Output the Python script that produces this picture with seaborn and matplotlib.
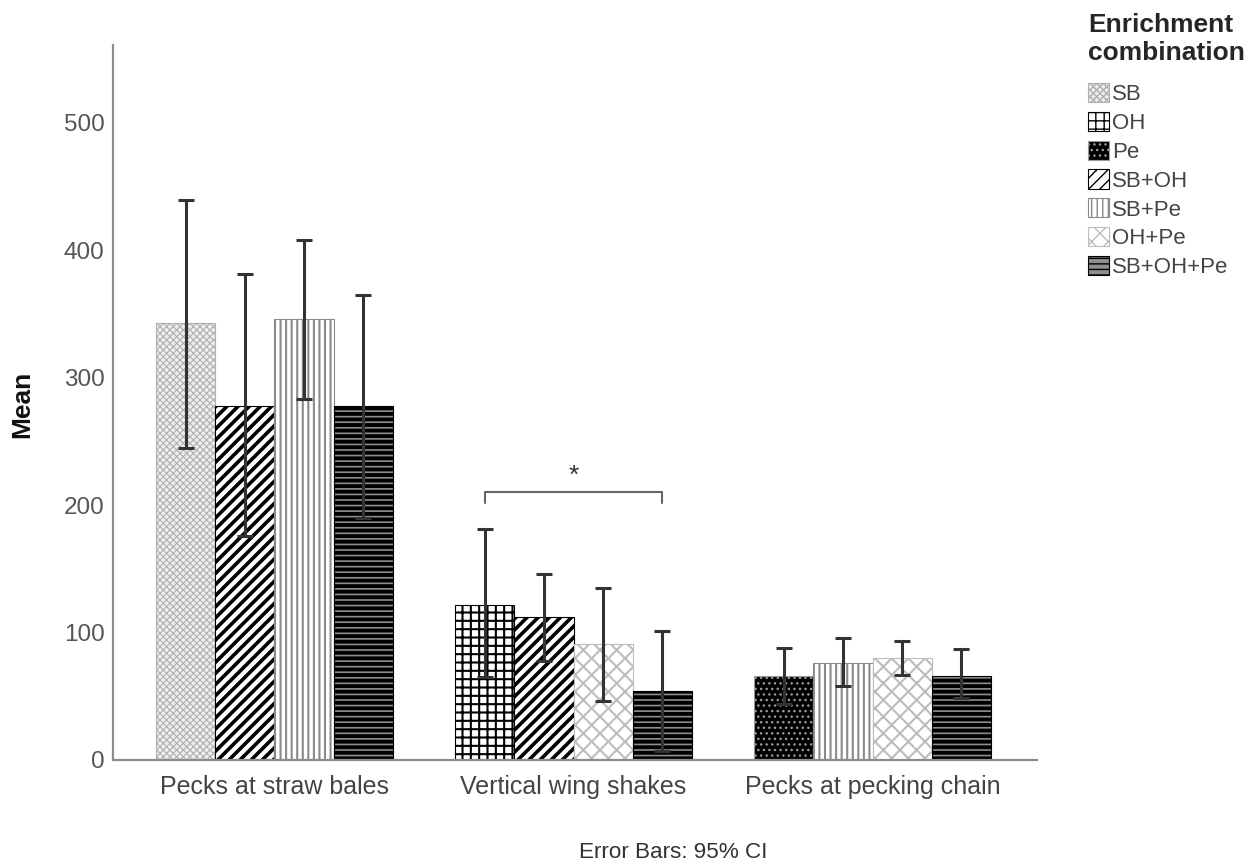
import numpy as np
import pandas as pd
import matplotlib
matplotlib.use("Agg")
import matplotlib.pyplot as plt
import seaborn as sns
from matplotlib.patches import Patch

# ---------------- data ----------------
behaviors = ["Pecks at straw bales", "Vertical wing shakes", "Pecks at pecking chain"]
combos = ["SB", "OH", "Pe", "SB+OH", "SB+Pe", "OH+Pe", "SB+OH+Pe"]
group_combos = [
    ["SB", "SB+OH", "SB+Pe", "SB+OH+Pe"],
    ["OH", "SB+OH", "OH+Pe", "SB+OH+Pe"],
    ["Pe", "SB+Pe", "OH+Pe", "SB+OH+Pe"],
]
means = [[343, 278, 346, 278], [122, 112, 91, 54], [66, 76, 80, 66]]
ci_low = [[245, 176, 283, 190], [65, 78, 46, 7], [44, 58, 67, 49]]
ci_high = [[439, 381, 408, 365], [181, 146, 135, 101], [88, 96, 93, 87]]
yticks = [0, 100, 200, 300, 400, 500]

# ---------------- styles ----------------
styles = {
    "SB":       dict(face="#eeeeee", edge="#b0b0b0", hatch="xxxxx", hlw=0.8),
    "OH":       dict(face="white",   edge="black",   hatch="++",    hlw=1.5),
    "Pe":       dict(face="black",   edge="#9a9a9a", hatch="...",   hlw=1.0),
    "SB+OH":    dict(face="white",   edge="black",   hatch="///",   hlw=2.6),
    "SB+Pe":    dict(face="white",   edge="#8a8a8a", hatch="|||",   hlw=1.5),
    "OH+Pe":    dict(face="white",   edge="#bdbdbd", hatch="xx",    hlw=1.5),
    "SB+OH+Pe": dict(face="#8e8e8e", edge="black",   hatch="---",   hlw=2.8),
}

rows = []
for gi, b in enumerate(behaviors):
    for si in range(4):
        rows.append(dict(behavior=b, slot=si, combo=group_combos[gi][si],
                         mean=means[gi][si]))
df = pd.DataFrame(rows)

sns.set_style("white")
plt.rcParams["font.family"] = ["Liberation Sans", "DejaVu Sans"]

fig = plt.figure(figsize=(12.52, 8.65), dpi=100)
ax = fig.add_axes([113 / 1252, 1 - 760 / 865, 924 / 1252, 715 / 865])

sns.barplot(data=df, x="behavior", y="mean", hue="slot", dodge=True,
            width=0.79, errorbar=None, legend=False,
            palette=["white"] * 4, ax=ax, order=behaviors)


def style_patch(p, st):
    p.set_facecolor(st["face"])
    p.set_edgecolor(st["edge"])
    p.set_hatch(st["hatch"])
    p.set_linewidth(0.8)
    if hasattr(p, "set_hatch_linewidth"):
        p.set_hatch_linewidth(st["hlw"])


xs, ys, lo, hi = [], [], [], []
for si, cont in enumerate(ax.containers):
    for gi, bar in enumerate(cont):
        combo = group_combos[gi][si]
        style_patch(bar, styles[combo])
        xs.append(bar.get_x() + bar.get_width() / 2)
        m = means[gi][si]
        ys.append(m)
        lo.append(m - ci_low[gi][si])
        hi.append(ci_high[gi][si] - m)

ax.errorbar(xs, ys, yerr=[lo, hi], fmt="none", ecolor="#333333",
            elinewidth=2.2, capsize=6, capthick=2.2, zorder=5)

# significance bracket between OH and SB+OH+Pe in group 2
c0 = ax.containers[0][1]
c3 = ax.containers[3][1]
x0 = c0.get_x() + c0.get_width() / 2
x1 = c3.get_x() + c3.get_width() / 2
ax.plot([x0, x0, x1, x1], [202, 210, 210, 202], color="#666666", lw=1.5)
ax.text((x0 + x1) / 2, 223, "*", ha="center", va="center", fontsize=19,
        color="#333333")

ax.set_xlim(-0.54, 2.55)
ax.set_ylim(0, 561)
ax.set_yticks(yticks)
ax.set_xlabel("")
ax.set_ylabel("")
ax.tick_params(axis="both", length=0)
ax.tick_params(axis="y", labelsize=17.5, labelcolor="#555555", pad=6)
ax.tick_params(axis="x", labelsize=18, labelcolor="#444444", pad=11)
for s in ["top", "right"]:
    ax.spines[s].set_visible(False)
for s in ["left", "bottom"]:
    ax.spines[s].set_color("#8c8c8c")
    ax.spines[s].set_linewidth(1.6)

fig.text(22 / 1252, 1 - 404 / 865, "Mean", rotation=90, ha="center",
         va="center", fontsize=19, fontweight="bold", color="#111111")
fig.text(673 / 1252, 1 - 852 / 865, "Error Bars: 95% CI", ha="center",
         va="center", fontsize=16.2, color="#333333")

handles = []
for c in combos:
    st = styles[c]
    h = Patch(facecolor=st["face"], edgecolor=st["edge"], hatch=st["hatch"],
              linewidth=0.8, label=c)
    if hasattr(h, "set_hatch_linewidth"):
        h.set_hatch_linewidth(st["hlw"])
    handles.append(h)

leg = fig.legend(handles=handles, loc="upper left",
                 bbox_to_anchor=(1079 / 1252, 1 - 4 / 865), frameon=False,
                 title="Enrichment\ncombination", fontsize=16,
                 title_fontproperties={"weight": "bold", "size": 19},
                 handlelength=0.95, handleheight=0.95, handletextpad=0.15,
                 labelspacing=0.3, alignment="left", borderaxespad=0)
leg._legend_box.sep = 13
for t in leg.get_texts():
    t.set_color("#444444")

fig.savefig("out.png", dpi=100)
